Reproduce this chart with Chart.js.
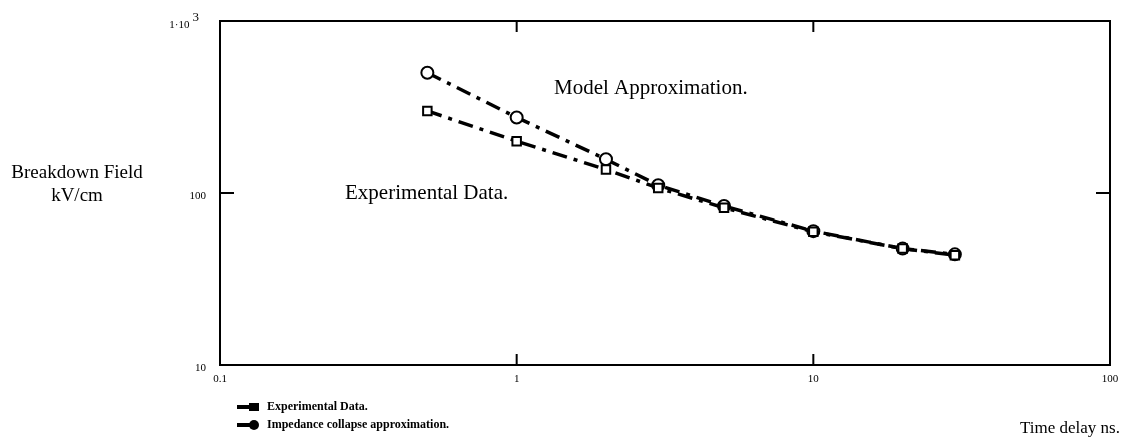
<!DOCTYPE html>
<html><head><meta charset="utf-8">
<script src="https://cdn.jsdelivr.net/npm/chart.js@4/dist/chart.umd.min.js"></script>
<style>html,body{margin:0;padding:0;background:#fff}#wrap{width:1123px;height:443px;position:relative}</style>
</head><body><div id="wrap"><canvas id="c" width="1123" height="443"></canvas></div>
<script>
const timeDelay = [0.5, 1, 2, 3, 5, 10, 20, 30];
const experimentalField = [300, 200, 137, 107, 82, 59.5, 47.5, 43.5];
const modelField = [500, 275, 157, 111, 84, 60, 47.5, 44];
const xTickValues = [0.1, 1, 10, 100];
const xTickLabels = ['0.1', '1', '10', '100'];
const yTickValues = [10, 100, 1000];
const yTickLabels = ['10', '100', '1·10^3'];
const seriesNames = ['Experimental Data.', 'Impedance collapse approximation.'];

const SERIF = '"Liberation Serif","DejaVu Serif",serif';
const dashDot = [15, 7, 4, 7];

const decor = {
  id: 'decor',
  afterDraw(chart) {
    const ctx = chart.ctx, a = chart.chartArea;
    const xs = chart.scales.x, ys = chart.scales.y;
    ctx.save();
    ctx.strokeStyle = '#000'; ctx.lineWidth = 2; ctx.setLineDash([]);
    ctx.strokeRect(a.left, a.top, a.right - a.left, a.bottom - a.top);
    [1, 10].forEach(v => {
      const px = xs.getPixelForValue(v);
      ctx.beginPath(); ctx.moveTo(px, a.bottom); ctx.lineTo(px, a.bottom - 11); ctx.stroke();
      ctx.beginPath(); ctx.moveTo(px, a.top); ctx.lineTo(px, a.top + 11); ctx.stroke();
    });
    [100].forEach(v => {
      const py = ys.getPixelForValue(v);
      ctx.beginPath(); ctx.moveTo(a.left, py); ctx.lineTo(a.left + 14, py); ctx.stroke();
      ctx.beginPath(); ctx.moveTo(a.right, py); ctx.lineTo(a.right - 14, py); ctx.stroke();
    });
    ctx.fillStyle = '#000';
    ctx.font = '11px ' + SERIF;
    ctx.textAlign = 'center'; ctx.textBaseline = 'top';
    xTickValues.forEach((v, i) => {
      ctx.fillText(xTickLabels[i], xs.getPixelForValue(v), a.bottom + 9);
    });
    ctx.textAlign = 'right'; ctx.textBaseline = 'middle';
    yTickValues.forEach((v, i) => {
      const py = ys.getPixelForValue(v);
      const lab = yTickLabels[i];
      if (lab.indexOf('^') >= 0) {
        const [base, exp] = lab.split('^');
        ctx.font = '13px ' + SERIF;
        const ew = ctx.measureText(exp).width;
        ctx.fillText(exp, a.left - 21, py - 3);
        ctx.font = '11px ' + SERIF;
        ctx.fillText(base, a.left - 24 - ew, py + 4);
      } else {
        ctx.fillText(lab, a.left - 14, py + 3);
      }
    });
    ctx.font = '19px ' + SERIF;
    ctx.textAlign = 'center'; ctx.textBaseline = 'middle';
    ctx.fillText('Breakdown Field', 77, 173);
    ctx.fillText('kV/cm', 77, 196);
    ctx.textAlign = 'left';
    ctx.font = '17px ' + SERIF;
    ctx.fillText('Time delay ns.', 1020, 429);
    ctx.font = '21px ' + SERIF;
    ctx.fillText('Model Approximation.', 554, 88);
    ctx.fillText('Experimental Data.', 345, 193);
    ctx.font = 'bold 12px ' + SERIF;
    const ly = [407, 425];
    ly.forEach((y, i) => {
      ctx.lineWidth = 4; ctx.beginPath(); ctx.moveTo(237, y); ctx.lineTo(252, y); ctx.stroke();
      ctx.fillStyle = '#000';
      if (i === 0) { ctx.fillRect(249, y - 4, 10, 8); }
      else { ctx.beginPath(); ctx.arc(254, y, 5, 0, Math.PI * 2); ctx.fill(); }
      ctx.fillText(seriesNames[i], 267, y);
    });
    ctx.restore();
  }
};

new Chart(document.getElementById('c'), {
  type: 'line',
  data: {
    datasets: [
      {
        label: seriesNames[0],
        data: timeDelay.map((x, i) => ({ x, y: experimentalField[i] })),
        borderColor: '#000', backgroundColor: '#fff', borderWidth: 3.5,
        borderDash: dashDot, pointStyle: 'rect', pointRadius: 6,
        pointBorderWidth: 2, pointBorderColor: '#000', pointBackgroundColor: '#fff',
        tension: 0
      },
      {
        label: seriesNames[1],
        data: timeDelay.map((x, i) => ({ x, y: modelField[i] })),
        borderColor: '#000', backgroundColor: '#fff', borderWidth: 3.5,
        borderDash: dashDot, pointStyle: 'circle', pointRadius: 6,
        pointBorderWidth: 2, pointBorderColor: '#000', pointBackgroundColor: '#fff',
        tension: 0
      }
    ]
  },
  options: {
    responsive: false, animation: false,
    layout: { padding: { left: 220, top: 21, right: 13, bottom: 78 } },
    plugins: { legend: { display: false }, tooltip: { enabled: false } },
    scales: {
      x: { type: 'logarithmic', min: 0.1, max: 100, display: false },
      y: { type: 'logarithmic', min: 10, max: 1000, display: false }
    }
  },
  plugins: [decor]
});
</script>
</body></html>
